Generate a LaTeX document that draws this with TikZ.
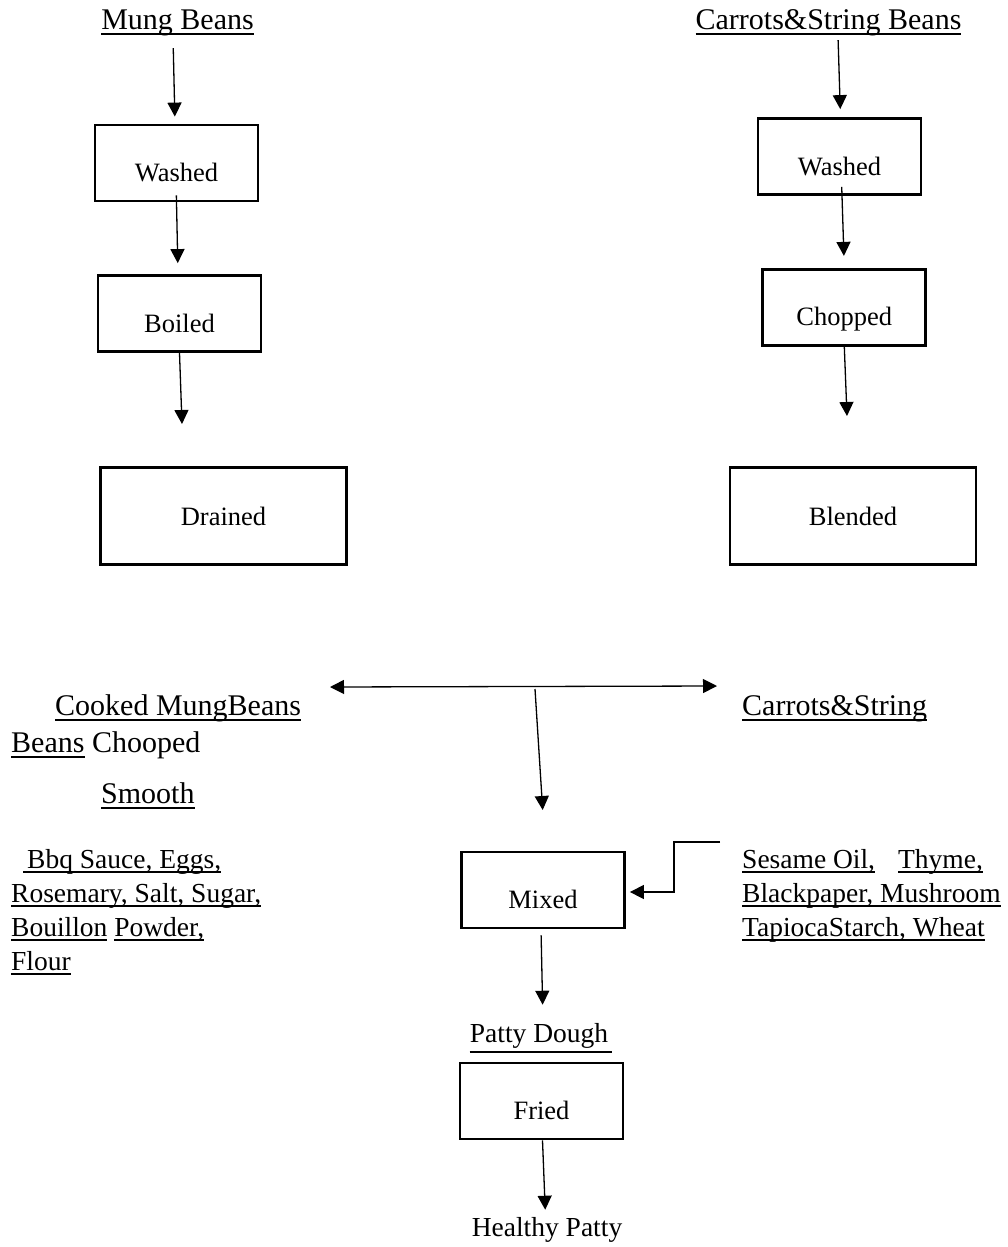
\documentclass[tikz,border=0pt]{standalone}
\usepackage{fontspec}
\setmainfont{Liberation Serif}
\usetikzlibrary{arrows.meta}
\newcommand\myul[2][3]{\leavevmode\setbox0=\hbox{#2}\rlap{\copy0}\vrule width\wd0 height -#1pt depth \dimexpr #1pt + 1.6pt\relax\relax}
\newcommand\fontH{\fontsize{30pt}{34pt}\selectfont}
\newcommand\fontI{\fontsize{27.5pt}{34pt}\selectfont}
\newcommand\fontB{\fontsize{26.5pt}{32pt}\selectfont}
\begin{document}
\begin{tikzpicture}[x=1pt,y=-1pt,
  arr/.style={line width=1.3pt,-{Triangle[length=14pt,width=14pt]}},
  darr/.style={line width=1.3pt,{Triangle[length=14pt,width=14pt]}-{Triangle[length=14pt,width=14pt]}},
  sbox/.style={draw,line width=2.8pt,minimum width=163pt,minimum height=76pt,inner sep=0pt,text height=38pt,text depth=1pt,font=\fontB},
  bbox/.style={draw,line width=2.8pt,minimum width=246pt,minimum height=97pt,inner sep=0pt,text height=19pt,text depth=1pt,font=\fontB},
  head/.style={inner sep=0pt,font=\fontH},
  ingr/.style={inner sep=0pt,font=\fontI}]
\useasboundingbox (0,0) rectangle (1008,1247);
% headings
\node[head,anchor=base] (mb) at (177.5,30) {\myul[3.5]{Mung Beans}};
\node[head,anchor=base] (cs) at (828.5,30) {\myul[3.5]{Carrots\&String Beans}};
% left column
\node[sbox] (w1) at (176.5,163) {Washed};
\node[sbox] (b1) at (179.5,313.5) {Boiled};
\node[bbox] (d1) at (223.5,516) {Drained};
\coordinate (d1in) at (182,424);
% right column
\node[sbox] (w2) at (839.5,156.5) {Washed};
\node[sbox] (c2) at (844.3,307.3) {Chopped};
\node[bbox] (bl2) at (853,516) {Blended};
\coordinate (c2out) at (847,416);
% arrows top
\draw[arr,shorten <=11.5pt,shorten >=7pt] ([xshift=-4.5pt]mb.south) -- ([xshift=-1.5pt]w1.north);
\draw[arr,shorten <=-7pt,shorten >=11pt] (w1.south) -- ([xshift=-1.5pt]b1.north);
\draw[arr] (b1.south) -- (d1in);
\draw[arr,shorten <=3.5pt,shorten >=8pt] ([xshift=9.5pt]cs.south) -- ([xshift=1pt]w2.north);
\draw[arr,shorten <=-9pt,shorten >=12pt] ([xshift=2.5pt]w2.south) -- (c2.north);
\draw[arr] (c2.south) -- (c2out);
% middle texts
\node[head,anchor=base west] (ck) at (55,715) {\myul[4]{Cooked MungBeans}};
\node[head,anchor=base west] (bc) at (11,752) {\myul[4]{Beans} Chooped};
\node[head,anchor=base west] (sm) at (101,803) {\myul[4]{Smooth}};
\node[head,anchor=base west] (cst) at (742,715) {\myul[4]{Carrots\&String}};
\coordinate (dl) at (330,687);
\coordinate (dr) at (717,686);
\draw[darr] (dl) -- (dr);
\coordinate (dm) at (535,689);
\coordinate (mxin) at (542.7,810);
\draw[arr] (dm) -- (mxin);
% ingredients left
\node[ingr,anchor=base west] (li1) at (23,868) {\myul{\hspace*{4pt}Bbq Sauce, Eggs,}};
\node[ingr,anchor=base west] (li2) at (11,902) {\myul{Rosemary, Salt, Sugar,}};
\node[ingr,anchor=base west] (li3) at (11,936) {\myul{Bouillon} \myul{Powder,}};
\node[ingr,anchor=base west] (li4) at (11,970) {\myul{Flour}};
% ingredients right
\node[ingr,anchor=base west] (ri1) at (742,868) {\myul{Sesame Oil,}\hspace*{23pt}\myul{Thyme,}};
\node[ingr,anchor=base west] (ri2) at (742,902) {\myul{Blackpaper, Mushroom}};
\node[ingr,anchor=base west] (ri3) at (742,936) {\myul{TapiocaStarch, Wheat}};
% bottom
\node[sbox] (mx) at (543,890) {Mixed};
\coordinate (es) at (720,842);
\coordinate (ec) at (674,842);
\draw[arr,shorten >=4pt] (es) -- (ec) |- ([yshift=-2pt]mx.east);
\node[ingr,anchor=base] (pd) at (539,1042) {Patty Dough};
\draw[line width=2pt] ([yshift=-10pt]pd.base west) -- ++(142,0);
\draw[arr,shorten <=6pt,shorten >=18pt] ([xshift=-2pt]mx.south) -- ([xshift=4pt]pd.north);
\node[sbox] (fr) at (541.5,1101) {Fried};
\node[ingr,anchor=base] (hp) at (547,1236) {Healthy Patty};
\draw[arr,shorten >=7pt] ([xshift=1pt]fr.south) -- ([xshift=-1.5pt]hp.north);
\end{tikzpicture}
\end{document}
